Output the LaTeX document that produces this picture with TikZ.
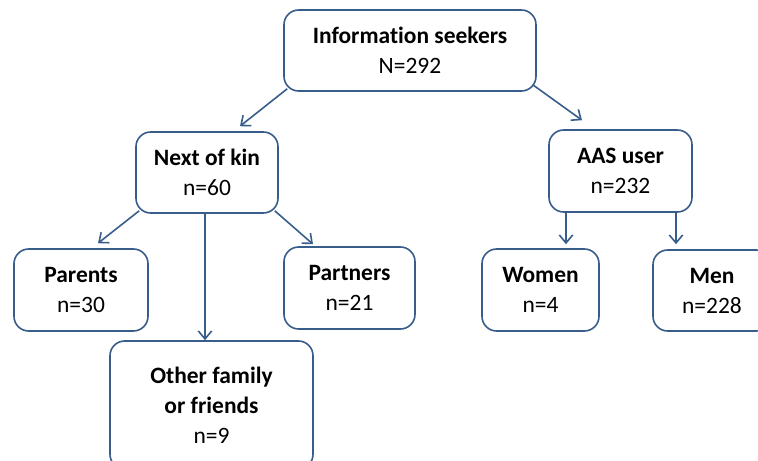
\documentclass[tikz,border=0pt]{standalone}
\usepackage{fontspec}
\setmainfont[Ligatures={NoCommon}]{Carlito}
\usetikzlibrary{arrows.meta}
\definecolor{boxblue}{RGB}{56,93,138}
\begin{document}
\begin{tikzpicture}[x=0.75pt, y=-0.75pt,
        box/.style={draw=boxblue, line width=1.2pt, rounded corners=11pt, align=center,
            font=\fontsize{17.6}{22.5}\selectfont, inner sep=0pt},
        arr/.style={draw=boxblue, line width=1.2pt, -{Straight Barb[length=6pt, width=10pt]}}]
    \useasboundingbox (0,0) rectangle (758,461);
    \node (seekers) [box, minimum width=189pt, minimum height=60.75pt] at (410, 50.5) {\textbf{Information seekers}\\N=292};
    \node (kin) [box, minimum width=106.5pt, minimum height=60.75pt] at (207, 172.5) {\textbf{Next of kin}\\n=60};
    \node (aas) [box, minimum width=107.25pt, minimum height=61.5pt] at (620.5, 171) {\textbf{AAS user}\\n=232};
    \node (parents) [box, minimum width=100.5pt, minimum height=61.5pt] at (81, 290) {\textbf{Parents}\\n=30};
    \node (partners) [box, minimum width=98.25pt, minimum height=61.5pt] at (349.5, 288) {\textbf{Partners}\\n=21};
    \node (other) [box, minimum width=152.25pt, minimum height=96pt] at (211.5, 405) {\textbf{Other family}\\\textbf{or friends}\\n=9};
    \node (women) [box, minimum width=87.75pt, minimum height=61.5pt] at (540.5, 290) {\textbf{Women}\\n=4};
    \node (men) [box, minimum width=88.5pt, minimum height=60.75pt] at (712, 290.5) {\textbf{Men}\\n=228};

    \draw[arr] ([shift={(4,-3)}]seekers.south west) -- ([shift={(33,-5)}]kin.north);
    \draw[arr] ([shift={(-4,-7)}]seekers.south east) -- ([shift={(-38.5,-9)}]aas.north);
    \draw[arr] ([shift={(4,-3)}]kin.south west) -- ([shift={(17,-5)}]parents.north);
    \draw[arr] ([shift={(-4,-3)}]kin.south east) -- ([shift={(-36.5,-2)}]partners.north);
    \draw[arr] ([shift={(-2,0)}]kin.south) -- ([shift={(-6.5,0)}]other.north);
    \draw[arr] ([shift={(-54.5,0)}]aas.south) -- ([shift={(25.5,-4)}]women.north);
    \draw[arr] ([shift={(55.5,0)}]aas.south) -- ([shift={(-36,-5)}]men.north);
\end{tikzpicture}
\end{document}
